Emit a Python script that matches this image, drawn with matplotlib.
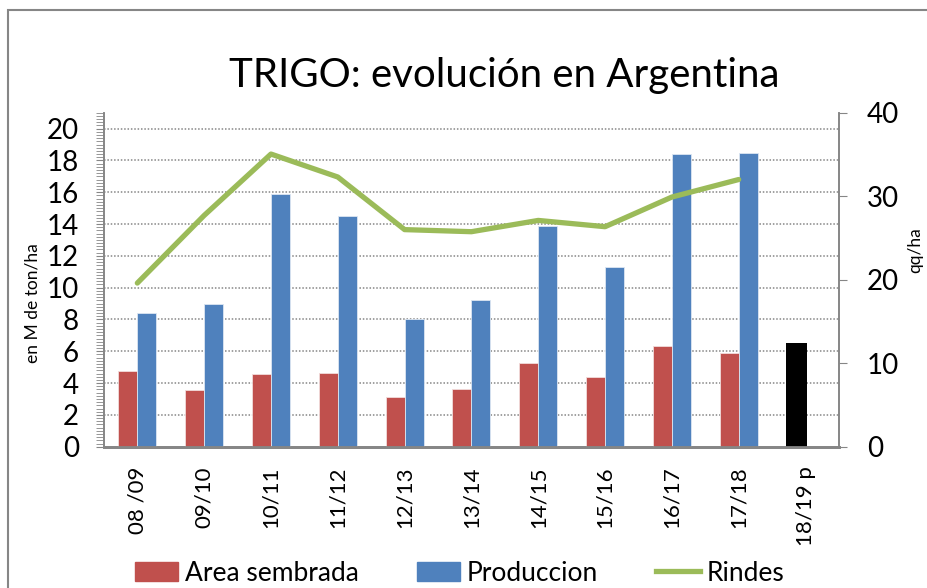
import matplotlib
matplotlib.use("Agg")
import matplotlib.pyplot as plt
import numpy as np
from matplotlib.ticker import MultipleLocator
from matplotlib.patches import Patch, Rectangle
from matplotlib.lines import Line2D

plt.rcParams['font.family'] = ['Lato', 'DejaVu Sans']

# datos
campanas = ["08 /09", "09/10", "10/11", "11/12", "12/13", "13/14",
            "14/15", "15/16", "16/17", "17/18", "18/19 p"]
area = [4.73, 3.56, 4.57, 4.63, 3.14, 3.62, 5.26, 4.36, 6.35, 5.89]
produccion = [8.38, 9.0, 15.86, 14.49, 8.04, 9.2, 13.88, 11.3, 18.39, 18.49]
estimado = [6.51]
rindes = [19.6, 27.7, 35.05, 32.3, 26.0, 25.75, 27.1, 26.35, 29.9, 32.0]

rojo = "#C0504D"
azul = "#4F81BD"
verde = "#9BBB59"
gris = "#868686"

fig = plt.figure(figsize=(9.28, 5.88), dpi=100)
ax = fig.add_axes([0.112, 0.2403, 0.792, 0.568])
ax2 = ax.twinx()

x = np.arange(len(campanas))
n = len(area)
ancho = 0.284
ax.bar(x[:n] - ancho / 2, area, ancho, color=rojo, edgecolor="#f2dcdb", linewidth=0.6, zorder=3)
ax.bar(x[:n] + ancho / 2, produccion, ancho, color=azul, edgecolor="#dce6f2", linewidth=0.6, zorder=3)
ax.bar(x[n:] - 0.13, estimado, 0.31, color="black", zorder=3)

ax2.plot(x[:n], rindes, color=verde, linewidth=3.8, solid_capstyle="round", zorder=4)

ax.set_xlim(-0.5, len(campanas) - 0.5)
ax.set_ylim(0, 21)
ax2.set_ylim(0, 40)
ax.set_yticks(np.arange(0, 21, 2))
ax.yaxis.set_minor_locator(MultipleLocator(0.2))
ax2.set_yticks(np.arange(0, 41, 10))

for yv in np.arange(2, 21, 2):
    ax.axhline(yv, color=gris, linestyle=(0, (1, 1.2)), linewidth=1.1, zorder=1)

ax.set_xticks(x)
ax.set_xticklabels(campanas, rotation=90, fontsize=16)
ax.tick_params(axis="x", length=0, pad=14)
ax.tick_params(axis="y", which="major", labelsize=20, length=6, color=gris, pad=12)
ax.tick_params(axis="y", which="minor", length=6, width=0.6, color=gris)
ax2.tick_params(axis="y", labelsize=20, length=6, color=gris, pad=14)

for a in (ax, ax2):
    a.spines["top"].set_visible(False)
    a.spines["left"].set_color(gris)
    a.spines["right"].set_color(gris)
    a.spines["bottom"].set_color(gris)
    a.spines["bottom"].set_linewidth(2)
    a.spines["left"].set_linewidth(1.2)
    a.spines["right"].set_linewidth(1.2)

# etiquetas de los ejes
fig.text(33 / 928, 1 - 303 / 588, "en M de ton/ha", fontsize=12.5, rotation=90, ha="center", va="center")
fig.text(915 / 928, 1 - 250 / 588, "qq/ha", fontsize=12.5, rotation=90, ha="center", va="center")

fig.text(0.543, 0.872, "TRIGO: evolución en Argentina", fontsize=29, ha="center", va="center")

handles = [Patch(color=rojo), Patch(color=azul), Line2D([], [], color=verde, linewidth=3.8)]
fig.legend(handles, ["Area sembrada", "Produccion", "Rindes"], loc="center",
           bbox_to_anchor=(0.495, 0.025), ncol=3, frameon=False, fontsize=19,
           handlelength=1.65, handleheight=0.75, handletextpad=0.25, columnspacing=2.2)

# marco del grafico
fig.patches.append(Rectangle((8 / 928, -0.1), 1.2, 1 - 10 / 588 + 0.1, transform=fig.transFigure,
                             fill=False, edgecolor=gris, linewidth=1.5))

fig.savefig("out.png", dpi=100)
